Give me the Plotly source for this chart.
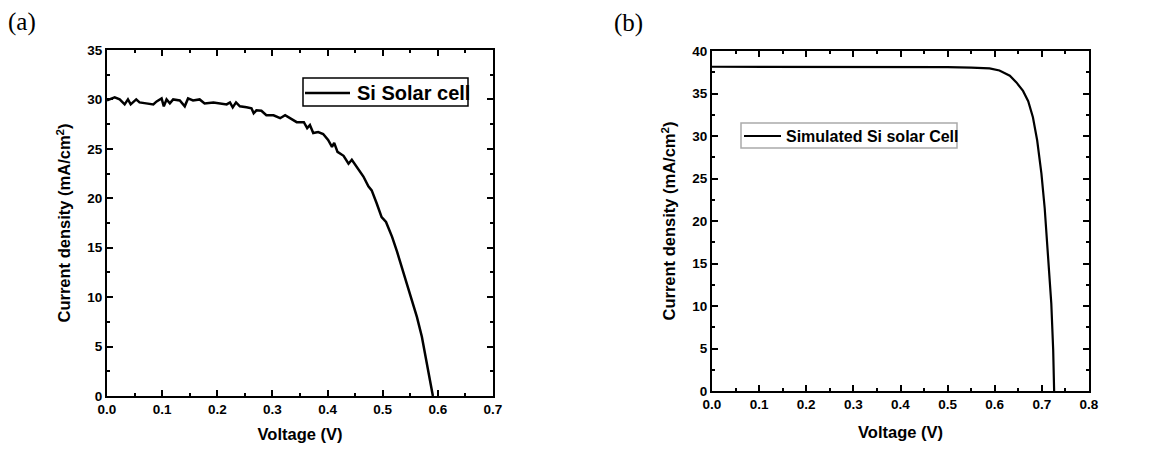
import plotly.graph_objects as go

# Panel (a): measured Si solar cell J-V
v_a = [0.000, 0.014, 0.023, 0.032, 0.038, 0.043, 0.053, 0.059, 0.071, 0.084, 0.090, 0.099,
       0.103, 0.108, 0.114, 0.120, 0.132, 0.141, 0.147, 0.156, 0.168, 0.177, 0.193, 0.205,
       0.217, 0.223, 0.228, 0.234, 0.241, 0.253, 0.262, 0.266, 0.271, 0.280, 0.289, 0.302,
       0.314, 0.323, 0.335, 0.344, 0.357, 0.363, 0.368, 0.374, 0.383, 0.392, 0.401, 0.408,
       0.412, 0.418, 0.429, 0.438, 0.444, 0.456, 0.465, 0.474, 0.480, 0.489, 0.498, 0.506,
       0.517, 0.526, 0.538, 0.550, 0.562, 0.571, 0.580, 0.591]
j_a = [29.9, 30.2, 30.0, 29.5, 30.0, 29.5, 30.0, 29.7, 29.6, 29.5, 29.8, 30.1,
       29.3, 30.0, 29.6, 30.0, 29.9, 29.3, 30.1, 29.9, 30.0, 29.6, 29.7, 29.6,
       29.5, 29.7, 29.2, 29.7, 29.3, 29.2, 29.1, 28.6, 28.9, 28.85, 28.4, 28.4,
       28.1, 28.4, 28.0, 27.7, 27.7, 27.1, 27.4, 26.6, 26.7, 26.5, 25.9, 25.2,
       25.6, 24.7, 24.3, 23.5, 23.9, 23.0, 22.2, 21.2, 20.8, 19.5, 18.1, 17.6,
       16.1, 14.6, 12.4, 10.0, 8.0, 6.0, 3.3, 0.0]

# Panel (b): simulated Si solar cell J-V
v_b = [0.000, 0.100, 0.200, 0.300, 0.400, 0.500, 0.550, 0.589, 0.610, 0.632, 0.646,
       0.660, 0.671, 0.681, 0.690, 0.699, 0.706, 0.713, 0.720, 0.724, 0.726]
j_b = [38.15, 38.15, 38.14, 38.13, 38.12, 38.10, 38.05, 37.96, 37.7, 37.1, 36.3,
       35.3, 34.1, 32.2, 29.5, 25.6, 21.5, 15.4, 10.3, 4.8, 0.0]

name_a = "Si Solar cell"
name_b = "Simulated Si solar Cell"
x_title = "Voltage (V)"
y_title = "Current density (mA/cm<sup>2</sup>)"

FONT = "Arial, Liberation Sans, sans-serif"
SERIF = "Liberation Serif, Times New Roman, serif"
# page has an 8px body margin; figure sized to fit the 1164x451 window exactly
OFF = 8
W, H = 1164 - 2 * OFF, 451 - 2 * OFF

def px(x): return (x - OFF) / W
def py(y): return 1 - (y - OFF) / H

fig = go.Figure()
fig.add_trace(go.Scatter(x=v_a, y=j_a, mode="lines", name=name_a, showlegend=False,
                         line=dict(color="black", width=2.5), xaxis="x", yaxis="y"))
fig.add_trace(go.Scatter(x=v_b, y=j_b, mode="lines", name=name_b, showlegend=False,
                         line=dict(color="black", width=2.2), xaxis="x2", yaxis="y2"))

def axis_common():
    return dict(
        showline=True, linecolor="black", linewidth=2, mirror="ticks",
        ticks="inside", ticklen=6, tickwidth=2, tickcolor="black",
        showgrid=False, zeroline=False,
        tickfont=dict(family=FONT, size=13.5, color="black", weight="bold"),
        minor=dict(ticks="inside", ticklen=3, tickwidth=2, tickcolor="black", showgrid=False),
        title_font=dict(family=FONT, size=16.5, color="black", weight="bold"),
        automargin=False,
    )

xa = axis_common(); xa.update(domain=[px(107), px(493)], range=[0, 0.7], dtick=0.1, tick0=0,
                              tickformat=".1f", anchor="y", title=dict(text=x_title, standoff=16))
xa["minor"]["dtick"] = 0.05
ya = axis_common(); ya.update(domain=[py(396), py(50)], range=[0, 35], dtick=5, tick0=0,
                              anchor="x", title=dict(text=y_title, standoff=12))
ya["minor"]["dtick"] = 2.5
xb = axis_common(); xb.update(domain=[px(712), px(1089)], range=[0, 0.8], dtick=0.1, tick0=0,
                              tickformat=".1f", anchor="y2", title=dict(text=x_title, standoff=15))
xb["minor"]["dtick"] = 0.05
yb = axis_common(); yb.update(domain=[py(391), py(51)], range=[0, 40], dtick=5, tick0=0,
                              anchor="x2", title=dict(text=y_title, standoff=12))
yb["minor"]["dtick"] = 2.5

shapes = [
    # legend (a)
    dict(type="rect", xref="paper", yref="paper", x0=px(303), x1=px(468), y0=py(106), y1=py(78),
         line=dict(color="black", width=1.5), fillcolor="white", layer="above"),
    dict(type="line", xref="paper", yref="paper", x0=px(305), x1=px(350), y0=py(93), y1=py(93),
         line=dict(color="black", width=2.5), layer="above"),
    # legend (b)
    dict(type="rect", xref="paper", yref="paper", x0=px(741), x1=px(957), y0=py(148), y1=py(123),
         line=dict(color="#aaaaaa", width=1.5), fillcolor="white", layer="above"),
    dict(type="line", xref="paper", yref="paper", x0=px(744), x1=px(781), y0=py(136), y1=py(136),
         line=dict(color="black", width=2.2), layer="above"),
]

annotations = [
    dict(text=name_a, x=px(355), y=py(93), xref="paper", yref="paper", showarrow=False,
         xanchor="left", yanchor="middle",
         font=dict(family=FONT, size=20, color="black", weight="bold")),
    dict(text=name_b, x=px(784), y=py(136), xref="paper", yref="paper", showarrow=False,
         xanchor="left", yanchor="middle",
         font=dict(family=FONT, size=16, color="black", weight="bold")),
    dict(text="(a)", x=px(22), y=py(22), xref="paper", yref="paper", showarrow=False,
         xanchor="center", yanchor="middle", font=dict(family=SERIF, size=25, color="black")),
    dict(text="(b)", x=px(628), y=py(23), xref="paper", yref="paper", showarrow=False,
         xanchor="center", yanchor="middle", font=dict(family=SERIF, size=25, color="black")),
]

fig.update_layout(
    width=W, height=H,
    margin=dict(l=0, r=0, t=0, b=0, autoexpand=False),
    paper_bgcolor="white", plot_bgcolor="white",
    xaxis=xa, yaxis=ya, xaxis2=xb, yaxis2=yb,
    showlegend=False,
    shapes=shapes, annotations=annotations,
)

fig.write_html("out.html")
